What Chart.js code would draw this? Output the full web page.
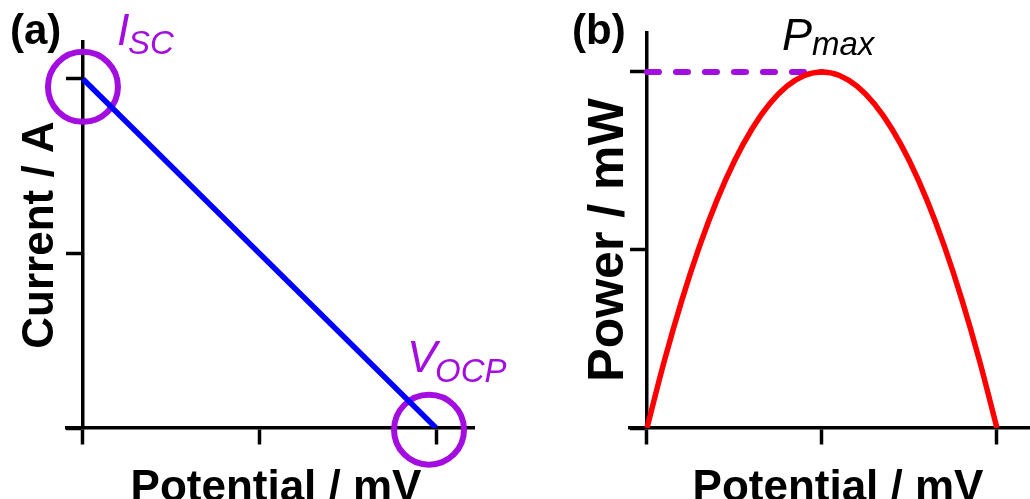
<!DOCTYPE html>
<html>
<head>
<meta charset="utf-8">
<script src="https://cdn.jsdelivr.net/npm/chart.js@4.4.1/dist/chart.umd.min.js"></script>
<style>
  html, body { margin: 0; padding: 0; background: #fff; }
  #wrap { position: relative; width: 1030px; height: 499px; overflow: hidden; }
  .panel { position: absolute; top: 0; width: 515px; height: 499px; }
</style>
</head>
<body>
<div id="wrap">
  <div class="panel" style="left:0"><canvas id="ivChart" width="515" height="499"></canvas></div>
  <div class="panel" style="left:515px"><canvas id="pvChart" width="515" height="499"></canvas></div>
</div>
<script>
// data (arbitrary units, ticks at 0/1/2)
const xTicks = [0, 1, 2];
const yTicks = [0, 1, 2];

// (a) current vs potential
const ivPotential = [0, 2];
const ivCurrent = [2, 0];
const iscSpot = [{ x: 0, y: 1.955 }];
const vocpSpot = [{ x: 1.96, y: -0.01 }];

// (b) power vs potential
const pvPotential = [0, 0.1, 0.2, 0.3, 0.4, 0.5, 0.6, 0.7, 0.8, 0.9, 1.0,
                     1.1, 1.2, 1.3, 1.4, 1.5, 1.6, 1.7, 1.8, 1.9, 2.0];
const pvPower = [0, 0.38, 0.72, 1.02, 1.28, 1.5, 1.68, 1.82, 1.92, 1.98, 2.0,
                 1.98, 1.92, 1.82, 1.68, 1.5, 1.28, 1.02, 0.72, 0.38, 0];
const pmaxPotential = [0, 1];
const pmaxPower = [2, 2];

const PURPLE = '#a30de0';
const FONT = '"Liberation Sans", Arial, sans-serif';

function zip(xs, ys) {
  return xs.map((x, i) => ({ x: x, y: ys[i] }));
}

function axisScale(min, max, ticks, pos) {
  return {
    type: 'linear',
    min: min,
    max: max,
    position: pos,
    afterBuildTicks: s => { s.ticks = ticks.map(v => ({ value: v })); },
    ticks: { display: false },
    grid: { drawOnChartArea: false, drawTicks: true, tickLength: 15, tickWidth: 3.5, tickColor: '#000' },
    border: { display: true, width: 3.5, color: '#000' }
  };
}

// text drawn on top of each panel
function textLayer(items) {
  return {
    id: 'textLayer',
    afterDraw(chart) {
      const ctx = chart.ctx;
      items.forEach(t => {
        ctx.save();
        ctx.font = t.font;
        ctx.fillStyle = t.color || '#000';
        ctx.textAlign = t.align || 'left';
        ctx.textBaseline = 'alphabetic';
        ctx.translate(t.x, t.y);
        if (t.rotate) ctx.rotate(-Math.PI / 2);
        ctx.fillText(t.text, 0, 0);
        ctx.restore();
      });
    }
  };
}

function circleSet(pts) {
  return {
    data: pts,
    showLine: false,
    pointRadius: 35,
    pointBorderWidth: 6,
    pointBorderColor: PURPLE,
    pointBackgroundColor: 'rgba(0,0,0,0)',
    clip: false
  };
}

Chart.defaults.font.family = FONT;

new Chart(document.getElementById('ivChart'), {
  type: 'line',
  data: {
    datasets: [
      {
        data: zip(ivPotential, ivCurrent),
        borderColor: '#0000ff',
        borderWidth: 5.5,
        pointRadius: 0,
        borderCapStyle: 'butt'
      },
      circleSet(iscSpot),
      circleSet(vocpSpot)
    ]
  },
  options: {
    responsive: false,
    animation: false,
    events: [],
    layout: { padding: { left: 67, right: 40, top: 42, bottom: 71 } },
    plugins: { legend: { display: false }, tooltip: { enabled: false } },
    scales: {
      x: axisScale(-0.0904, 2.2147, xTicks, { y: 0 }),
      y: axisScale(0, 2.212, yTicks, { x: 0 })
    }
  },
  plugins: [textLayer([
    { text: '(a)', font: 'bold 42px ' + FONT, x: 10, y: 44 },
    { text: 'I', font: 'italic 45px ' + FONT, color: PURPLE, x: 117, y: 45 },
    { text: 'SC', font: 'italic 33px ' + FONT, color: PURPLE, x: 128, y: 54 },
    { text: 'V', font: 'italic 45px ' + FONT, color: PURPLE, x: 407, y: 372 },
    { text: 'OCP', font: 'italic 33px ' + FONT, color: PURPLE, x: 435, y: 382 },
    { text: 'Current / A', font: 'bold 44px ' + FONT, x: 53, y: 235, align: 'center', rotate: true },
    { text: 'Potential / mV', font: 'bold 44px ' + FONT, x: 276, y: 501, align: 'center' }
  ])]
});

new Chart(document.getElementById('pvChart'), {
  type: 'line',
  data: {
    datasets: [
      {
        data: zip(pvPotential, pvPower),
        borderColor: '#ff0000',
        borderWidth: 5.5,
        pointRadius: 0,
        cubicInterpolationMode: 'monotone'
      },
      {
        data: zip(pmaxPotential, pmaxPower),
        borderColor: PURPLE,
        borderWidth: 6,
        borderDash: [12, 17],
        borderCapStyle: 'round',
        pointRadius: 0,
        clip: false
      }
    ]
  },
  options: {
    responsive: false,
    animation: false,
    events: [],
    layout: { padding: { left: 115, right: 0, top: 33, bottom: 71 } },
    plugins: { legend: { display: false }, tooltip: { enabled: false } },
    scales: {
      x: axisScale(-0.097, 2.189, xTicks, { y: 0 }),
      y: axisScale(0, 2.219, yTicks, { x: 0 })
    }
  },
  plugins: [textLayer([
    { text: '(b)', font: 'bold 42px ' + FONT, x: 57, y: 44 },
    { text: 'P', font: 'italic 45px ' + FONT, color: '#000', x: 267, y: 50 },
    { text: 'max', font: 'italic 33px ' + FONT, color: '#000', x: 297, y: 55 },
    { text: 'Power / mW', font: 'bold 50px ' + FONT, x: 108, y: 240, align: 'center', rotate: true },
    { text: 'Potential / mV', font: 'bold 44px ' + FONT, x: 323, y: 501, align: 'center' }
  ])]
});
</script>
</body>
</html>
